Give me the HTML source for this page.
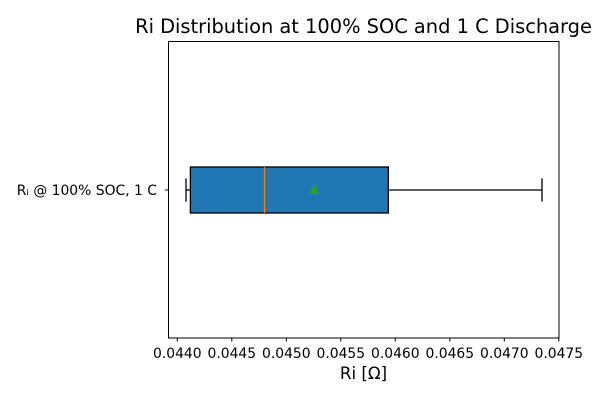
<!DOCTYPE html>
<html><head><meta charset="utf-8"><style>
html,body{margin:0;padding:0;background:#fff;}
svg{display:block;font-family:"DejaVu Sans","Liberation Sans",sans-serif;}
</style></head><body>
<svg id="chart" width="600" height="400" viewBox="0 0 600 400" xmlns="http://www.w3.org/2000/svg">
<text x="363.5" y="33" font-size="19.4" text-anchor="middle">Ri Distribution at 100% SOC and 1 C Discharge</text>
<rect x="168.5" y="41.5" width="390.5" height="296.5" fill="none" stroke="#000" stroke-width="1"/>
<g id="marks"></g>
<g id="xticks"></g>
<text x="363.5" y="379" font-size="16.7" text-anchor="middle">Ri [Ω]</text>
<text x="157" y="195" font-size="13.9" text-anchor="end">Rᵢ @ 100% SOC, 1 C</text>
<line x1="165" x2="168.5" y1="190" y2="190" stroke="#000"/>
</svg>
<script>
const categories = ["Rᵢ @ 100% SOC, 1 C"];
const whiskerLow = [0.04408];
const q1 = [0.04412];
const median = [0.04480];
const q3 = [0.045936];
const whiskerHigh = [0.047346];
const mean = [0.045254];
const xTicks = [0.0440,0.0445,0.0450,0.0455,0.0460,0.0465,0.0470,0.0475];
const xTickLabels = ["0.0440","0.0445","0.0450","0.0455","0.0460","0.0465","0.0470","0.0475"];

const NS="http://www.w3.org/2000/svg";
function xs(v){return 177.3+(v-0.0440)*109000;}
function mk(tag,attrs,parent){const e=document.createElementNS(NS,tag);for(const k in attrs)e.setAttribute(k,attrs[k]);parent.appendChild(e);return e;}
const marks=document.getElementById('marks');
const cy=190, bh=23, ch=11.7;
categories.forEach((c,i)=>{
  let e;
  e=mk('line',{x1:xs(whiskerLow[i]),x2:xs(q1[i]),y1:cy,y2:cy,stroke:'#000','stroke-width':1.3},marks);
  
  
  e=mk('line',{x1:xs(q3[i]),x2:xs(whiskerHigh[i]),y1:cy,y2:cy,stroke:'#000','stroke-width':1.3},marks);
  
  
  e=mk('line',{x1:xs(whiskerLow[i]),x2:xs(whiskerLow[i]),y1:cy-ch,y2:cy+ch,stroke:'#000','stroke-width':1.3},marks);
  
  
  e=mk('line',{x1:xs(whiskerHigh[i]),x2:xs(whiskerHigh[i]),y1:cy-ch,y2:cy+ch,stroke:'#000','stroke-width':1.3},marks);
  
  
  e=mk('rect',{x:xs(q1[i]),y:cy-bh,width:xs(q3[i])-xs(q1[i]),height:2*bh,fill:'#1f77b4',stroke:'#000','stroke-width':1.3},marks);
  
  
  e=mk('line',{x1:xs(median[i]),x2:xs(median[i]),y1:cy-bh,y2:cy+bh,stroke:'#ff7f0e','stroke-width':1.3},marks);
  
  
  const mx=xs(mean[i]);
  e=mk('polygon',{points:`${mx},${cy-6} ${mx-5.5},${cy+4} ${mx+5.5},${cy+4}`,fill:'#2ca02c'},marks);
  
  
});
const xt=document.getElementById('xticks');
xTicks.forEach((v,i)=>{
  const x=xs(v);
  let e=mk('line',{x1:x,x2:x,y1:338,y2:341.5,stroke:'#000'},xt);
  
  
  e=mk('text',{x:x,y:358,'font-size':13.9,'text-anchor':'middle'},xt);
  e.textContent=xTickLabels[i];
  
  
});
</script>
</body></html>
